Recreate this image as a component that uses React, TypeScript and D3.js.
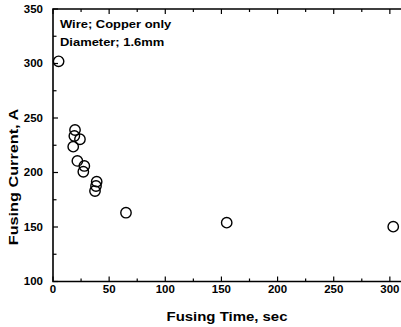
import React, { useEffect, useRef } from 'react'
import * as d3 from 'd3'

// fusing time (sec) and fusing current (A)
const fusingTime = [5, 19.6, 19, 24, 18, 21.7, 27.9, 27, 38.9, 38.3, 37.4, 65, 154.7, 303]
const fusingCurrent = [302, 239, 233.5, 230.5, 223.7, 210.6, 206, 200.7, 191.6, 187.6, 183, 163.1, 154, 150.3]
const xTicks = [0, 50, 100, 150, 200, 250, 300]
const yTicks = [100, 150, 200, 250, 300, 350]
const notes = ['Wire; Copper only', 'Diameter; 1.6mm']

const W = 401
const H = 327

const App = () => {
  const ref = useRef<SVGSVGElement>(null)

  useEffect(() => {
    const svg = d3.select(ref.current)
    svg.selectAll('*').remove()

    const x = d3.scaleLinear().domain([0, 315]).range([53, 406.7])
    const y = d3.scaleLinear().domain([100, 350]).range([281.5, 9])
    const font = 'Arial, "Liberation Sans", sans-serif'
    // the scanned lettering is a bit wider than Arial
    const stretch = 1.15

    const g = svg.append('g')

    const xMinor = d3.range(0, 315, 25)
    const yMinor = d3.range(100, 351, 25)

    // ticks point inward
    g.append('g')
      .selectAll('line')
      .data(xMinor)
      .join('line')
      .attr('x1', d => x(d))
      .attr('x2', d => x(d))
      .attr('y1', y(100))
      .attr('y2', d => y(100) - (d % 50 === 0 ? 5 : 3))
      .attr('stroke', '#000')
      .attr('stroke-width', 1.2)

    g.append('g')
      .selectAll('line')
      .data(xMinor)
      .join('line')
      .attr('x1', d => x(d))
      .attr('x2', d => x(d))
      .attr('y1', y(350))
      .attr('y2', d => y(350) + (d % 50 === 0 ? 5 : 3))
      .attr('stroke', '#000')
      .attr('stroke-width', 1.2)

    g.append('g')
      .selectAll('line')
      .data(yMinor)
      .join('line')
      .attr('x1', x(0))
      .attr('x2', d => x(0) + (d % 50 === 0 ? 5 : 3.5))
      .attr('y1', d => y(d))
      .attr('y2', d => y(d))
      .attr('stroke', '#000')
      .attr('stroke-width', 1.2)

    // frame (right side runs off the picture)
    g.append('path')
      .attr('d', `M${W + 2},${y(350)}H${x(0)}V${y(100)}H${W + 2}`)
      .attr('fill', 'none')
      .attr('stroke', '#000')
      .attr('stroke-width', 1.6)

    // tick labels
    g.append('g')
      .selectAll('text')
      .data(xTicks)
      .join('text')
      .attr('transform', d => `translate(${x(d)},293) scale(${stretch},1)`)
      .attr('text-anchor', 'middle')
      .attr('font-family', font)
      .attr('font-weight', 'bold')
      .attr('font-size', 10)
      .text(d => d)

    g.append('g')
      .selectAll('text')
      .data(yTicks)
      .join('text')
      .attr('transform', d => `translate(43,${y(d) + 3.8}) scale(${stretch},1)`)
      .attr('text-anchor', 'end')
      .attr('font-family', font)
      .attr('font-weight', 'bold')
      .attr('font-size', 10)
      .text(d => d)

    // axis titles
    g.append('text')
      .attr('transform', `translate(227,321) scale(${stretch},1)`)
      .attr('text-anchor', 'middle')
      .attr('font-family', font)
      .attr('font-weight', 'bold')
      .attr('font-size', 13)
      .text('Fusing Time, sec')

    g.append('text')
      .attr('transform', `translate(18,177) rotate(-90) scale(1.25,1)`)
      .attr('text-anchor', 'middle')
      .attr('font-family', font)
      .attr('font-weight', 'bold')
      .attr('font-size', 13)
      .text('Fusing Current, A')

    // annotation
    g.append('g')
      .selectAll('text')
      .data(notes)
      .join('text')
      .attr('transform', (d, i) => `translate(60,${28 + i * 18}) scale(1.2,1)`)
      .attr('font-family', font)
      .attr('font-weight', 'bold')
      .attr('font-size', 10.8)
      .text(d => d)

    // points
    g.append('g')
      .selectAll('circle')
      .data(fusingTime.map((t, i) => [t, fusingCurrent[i]]))
      .join('circle')
      .attr('cx', d => x(d[0]))
      .attr('cy', d => y(d[1]))
      .attr('r', 5.2)
      .attr('fill', 'none')
      .attr('stroke', '#000')
      .attr('stroke-width', 1.4)
  }, [])

  return (
    <svg
      ref={ref}
      width={W}
      height={H}
      style={{ position: 'absolute', left: 0, top: 0, background: '#fff' }}
    />
  )
}

export default App
